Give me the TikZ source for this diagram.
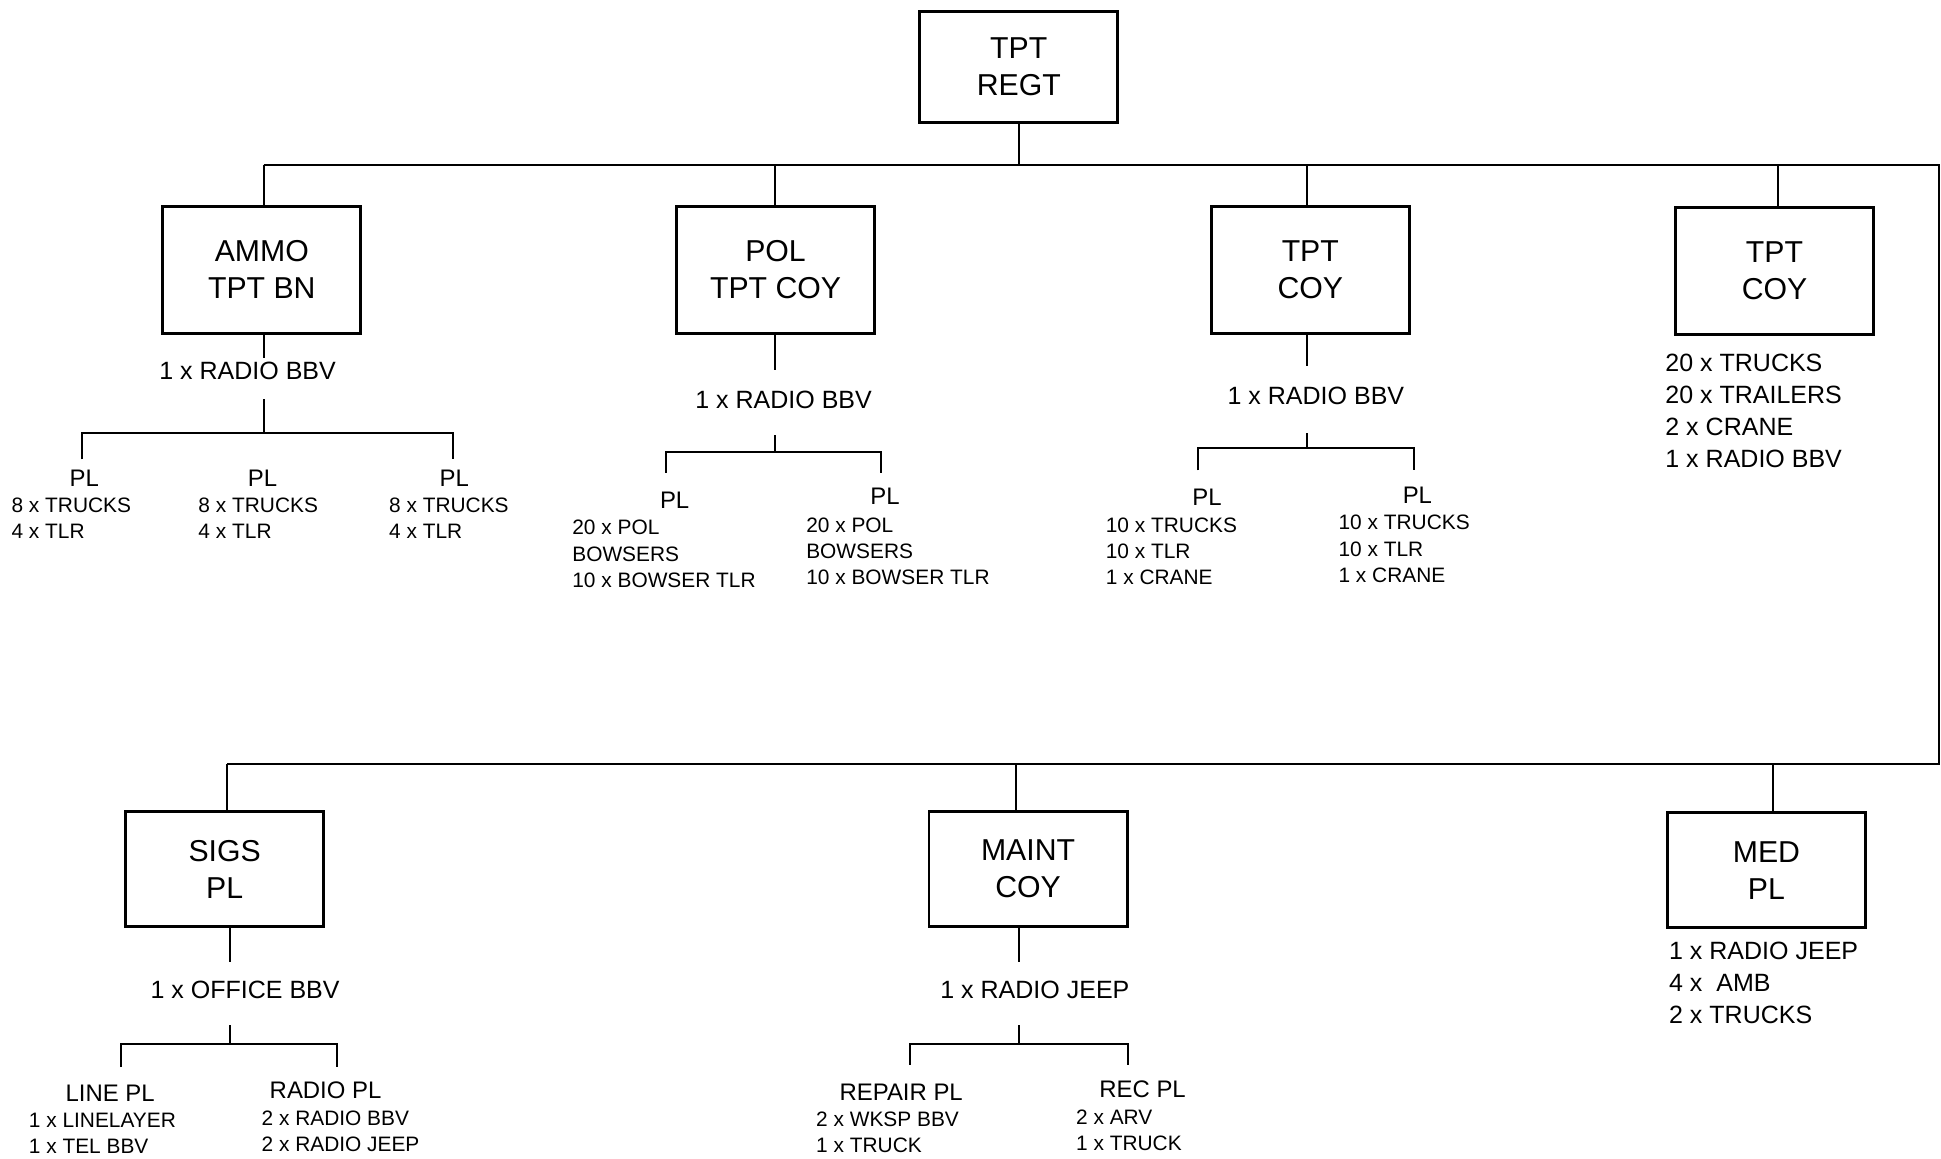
\documentclass[tikz,border=0pt]{standalone}
\usepackage{fontspec}
\setmainfont{Liberation Sans}
\tikzset{
  unit/.style={draw,line width=1.3pt,minimum width=3.2cm,minimum height=2.06cm,align=center,font=\fontsize{13.9}{17}\selectfont},
  veh/.style={inner sep=0pt,font=\fontsize{11.5}{14.7}\selectfont},
  kit/.style={inner sep=0pt,anchor=north west,align=left,font=\fontsize{11.5}{14.7}\selectfont},
  plhead/.style={inner sep=0pt,font=\fontsize{11}{13}\selectfont},
  plitem/.style={inner sep=0pt,anchor=north west,align=left,font=\fontsize{9.6}{12}\selectfont},
  link/.style={line width=0.9pt}
}
\begin{document}
\begin{tikzpicture}[x=0.02cm,y=-0.02cm]
\useasboundingbox (0,0) rectangle (1568,936);
% units
\node[unit,minimum height=1.8cm] (regt) at (823,54) {TPT\\REGT};
\node[unit] (ammo) at (211.5,218) {AMMO\\TPT BN};
\node[unit] (pol) at (626.5,218) {POL\\TPT COY};
\node[unit] (tpta) at (1058.5,218) {TPT\\COY};
\node[unit] (tptb) at (1433.5,219) {TPT\\COY};
\node[unit,minimum height=1.86cm] (sigs) at (181.5,702) {SIGS\\PL};
\node[unit,minimum height=1.86cm] (maint) at (830.5,702) {MAINT\\COY};
\node[unit,minimum height=1.86cm] (med) at (1427,703) {MED\\PL};
% main buses
\coordinate (tl) at (213,133);
\coordinate (tr) at (1566,133);
\coordinate (br) at (1566,617);
\coordinate (bl) at (183,617);
\draw[link] (regt.south) -- (regt.south |- tr);
\draw[link] (tl) -- (tr) -- (br) -- (bl);
\foreach \u/\x in {ammo/213,pol/626,tpta/1056,tptb/1436}
  \draw[link] (\x,0 |- tr) -- (\x,0 |- \u.north);
\foreach \u/\x in {sigs/183,maint/821,med/1432}
  \draw[link] (\x,0 |- br) -- (\x,0 |- \u.north);
% vehicles at coy level
\node[veh] (ammoveh) at (200,300) {1 x RADIO BBV};
\node[veh] (polveh) at (633,323) {1 x RADIO BBV};
\node[veh] (tptaveh) at (1063,320) {1 x RADIO BBV};
\node[veh] (sigsveh) at (198,800) {1 x OFFICE BBV};
\node[veh] (maintveh) at (836,800) {1 x RADIO JEEP};
\node[kit] (tptbkit) at (1345,286) {20 x TRUCKS\\20 x TRAILERS\\2 x CRANE\\1 x RADIO BBV};
\node[kit] (medkit) at (1348,761) {1 x RADIO JEEP\\4 x~ AMB\\2 x TRUCKS};
% branches to platoons
\foreach \u/\xm/\ya/\yb/\yc/\xl/\xr/\yl in {
    ammo/213/289/322/350/66/366/371,
    pol/626/299/351/365/538/712/382,
    tpta/1056/296/350/362/968/1142/380,
    sigs/186/777/828/843/98/272/862,
    maint/823/777/828/843/735/911/860}{
  \coordinate (\u bus) at (\xm,\yc);
  \coordinate (\u l) at (\xl,\yl);
  \coordinate (\u r) at (\xr,\yl);
  \draw[link] (\xm,0 |- \u.south) -- (\xm,\ya);
  \draw[link] (\u bus) -- (\xm,\yb);
  \draw[link] (\u l) |- (\u bus) -| (\u r);
}
% platoons
\foreach \i/\x/\hx in {1/9/68,2/160/212,3/314/367}{
  \node[plhead] (ammopl\i) at (\hx,386) {PL};
  \node[plitem] (ammokit\i) at (\x,402) {8 x TRUCKS\\4 x TLR};
}
\node[plhead] (polpl1) at (545,404) {PL};
\node[plitem] (polkit1) at (462,420) {20 x POL\\BOWSERS\\10 x BOWSER TLR};
\node[plhead] (polpl2) at (715,401) {PL};
\node[plitem] (polkit2) at (651,418) {20 x POL\\BOWSERS\\10 x BOWSER TLR};
\node[plhead] (tptapl1) at (975,402) {PL};
\node[plitem] (tptakit1) at (893,418) {10 x TRUCKS\\10 x TLR\\1 x CRANE};
\node[plhead] (tptapl2) at (1145,400) {PL};
\node[plitem] (tptakit2) at (1081,416) {10 x TRUCKS\\10 x TLR\\1 x CRANE};
\node[plhead] (linepl) at (89,883) {LINE PL};
\node[plitem] (linekit) at (23,899) {1 x LINELAYER\\1 x TEL BBV};
\node[plhead] (radiopl) at (263,881) {RADIO PL};
\node[plitem] (radiokit) at (211,897) {2 x RADIO BBV\\2 x RADIO JEEP};
\node[plhead] (repairpl) at (728,882) {REPAIR PL};
\node[plitem] (repairkit) at (659,898) {2 x WKSP BBV\\1 x TRUCK};
\node[plhead] (recpl) at (923,880) {REC PL};
\node[plitem] (reckit) at (869,896) {2 x ARV\\1 x TRUCK};
\end{tikzpicture}
\end{document}
